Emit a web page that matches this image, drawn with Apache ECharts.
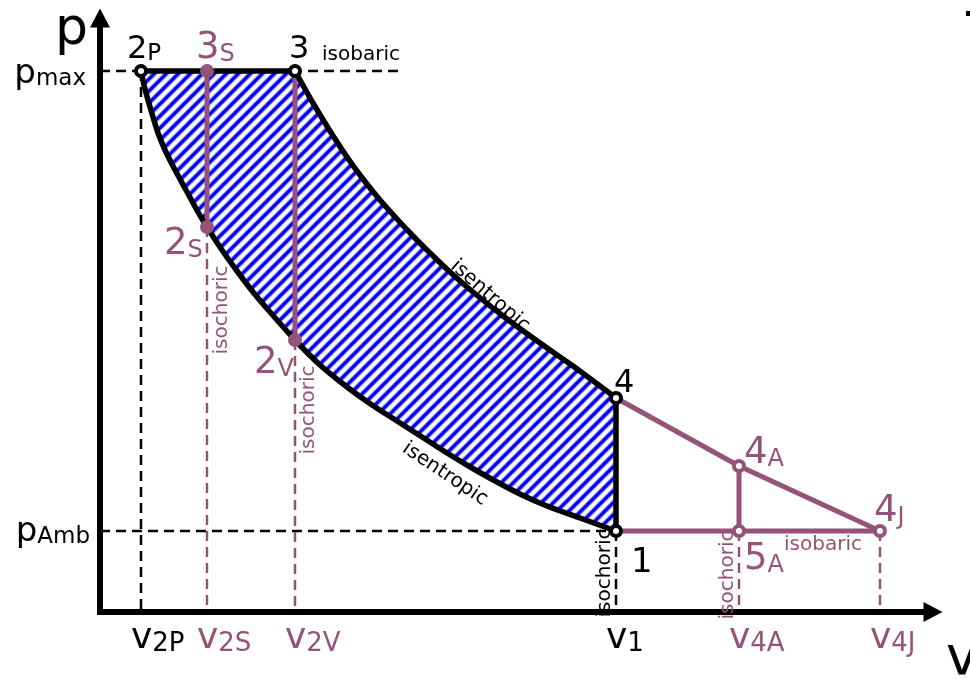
<!DOCTYPE html>
<html><head><meta charset="utf-8">
<script src="https://cdn.jsdelivr.net/npm/echarts@6/dist/echarts.min.js"></script>
<style>html,body{margin:0;padding:0;background:#fff}#c{width:970px;height:679px}</style>
</head><body><div id="c"></div>
<script>
// ---------- data (v, p in arbitrary units) ----------
const stateNames = ['2P','3S','3','2S','2V','4','1','4A','5A','4J'];
const stateV = [0.41,1.07,1.95,1.07,1.95,5.16,5.16,6.39,6.39,7.80];
const stateP = [5.41,5.41,5.41,3.85,2.72,2.14,0.81,1.46,0.81,0.81];
const upperV = [1.95,2.13,2.30,2.47,2.63,2.80,2.97,3.13,3.30,3.50,3.73,4.07,4.40,4.73,5.16];
const upperP = [5.41,5.09,4.81,4.55,4.33,4.12,3.93,3.76,3.59,3.40,3.20,2.93,2.69,2.46,2.14];
const lowerV = [0.41,0.44,0.48,0.53,0.58,0.65,0.74,0.86,0.98,1.07,1.22,1.37,1.53,1.70,1.95,2.20,2.47,2.72,2.97,3.22,3.47,3.72,3.97,4.22,4.47,4.80,5.16];
const lowerP = [5.41,5.27,5.12,4.95,4.79,4.62,4.44,4.22,4.00,3.85,3.62,3.41,3.20,3.00,2.72,2.47,2.25,2.07,1.91,1.75,1.59,1.44,1.30,1.17,1.06,0.94,0.81];
const expansionV = [5.16,6.39,7.80];
const expansionP = [2.14,1.46,0.81];
const vTickNames = ['2P','2S','2V','1','4A','4J'];
const vTickValues = [0.41,1.07,1.95,5.16,6.39,7.80];
const pTickNames = ['max','Amb'];
const pTickValues = [5.41,0.81];
const isobarDashEnd = 3.00;

// ---------- styles ----------
const PURPLE = '#955377';
const FONT = "'DejaVu Sans', Verdana, sans-serif";
const S = n => { const i = stateNames.indexOf(n); return [stateV[i], stateP[i]]; };
const zip = (a, b) => a.map((v, i) => [v, b[i]]);

// hatch pattern (soft-edged blue diagonal stripes)
const tile = document.createElement('canvas');
tile.width = tile.height = 12;
(function(){
  const c = tile.getContext('2d');
  c.fillStyle = '#fff'; c.fillRect(0,0,12,12);
  function stripes(color, w){
    c.strokeStyle = color; c.lineWidth = w;
    c.beginPath();
    c.moveTo(-6,6); c.lineTo(6,-6);
    c.moveTo(-1,13); c.lineTo(13,-1);
    c.moveTo(6,18); c.lineTo(18,6);
    c.stroke();
  }
  stripes('#b4b4ff', 5.6);
  stripes('#0000ff', 3.2);
})();
const hatch = {image: tile, repeat: 'repeat'};

function line(data, color, width, dashed, z, smooth) {
  return {type:'line', data, symbol:'none', z, silent:true, animation:false, clip:false, smooth: smooth || false,
    lineStyle:{color, width, opacity:1, type: dashed ? [10,6] : 'solid', cap: dashed ? 'butt' : 'round', join:'round'}};
}

const series = [];
// hatched work area
series.push({type:'custom', z:1, silent:true, data:[[0,0]], clip:false,
  renderItem: function(params, api){
    const pts = [];
    for (let i = 0; i < upperV.length; i++) pts.push(api.coord([upperV[i], upperP[i]]));
    for (let i = lowerV.length-1; i >= 0; i--) pts.push(api.coord([lowerV[i], lowerP[i]]));
    return {type:'polygon', shape:{points:pts}, style:{fill: hatch}};
  }});
// dashed helpers (black)
const p2P = S('2P'), p1 = S('1');
series.push(line([[0,p2P[1]],[isobarDashEnd,p2P[1]]], '#000', 2.5, true, 2));
series.push(line([[0,p1[1]],[p1[0],p1[1]]], '#000', 2.5, true, 2));
series.push(line([[p2P[0],p2P[1]],[p2P[0],0]], '#000', 2.5, true, 2));
series.push(line([[p1[0],p1[1]],[p1[0],0]], '#000', 2.5, true, 2));
// dashed helpers (purple)
['2S','2V','5A','4J'].forEach(n => { const p = S(n); series.push(line([[p[0],p[1]],[p[0],0]], PURPLE, 2.5, true, 2)); });
// purple process lines
series.push(line([S('3S'), S('2S')], PURPLE, 5, false, 3));
series.push(line([S('3'), S('2V')], PURPLE, 5, false, 3));
series.push(line(zip(expansionV, expansionP), PURPLE, 5, false, 3));
series.push(line([S('4A'), S('5A')], PURPLE, 5, false, 3));
series.push(line([S('1'), S('4J')], PURPLE, 5, false, 3));
// black cycle
series.push(line([S('2P'), S('3')], '#000', 5.5, false, 4));
series.push(line(zip(upperV, upperP), '#000', 5.5, false, 4, 0.25));
series.push(line([S('4'), S('1')], '#000', 5.5, false, 4));
series.push(line(zip(lowerV, lowerP), '#000', 5.5, false, 4, 0.25));

// markers + labels
const kind = {'2P':'k','3':'k','4':'k','1':'k','4A':'r','5A':'r','4J':'r','3S':'d','2S':'d','2V':'d'};
const labelOffset = {'2P':[-14,-5],'3':[-6,-5],'4':[-2,2],'1':[15,49],'3S':[-11,-4],'2S':[-43,36],
  '2V':[-41,42],'4A':[5,6],'5A':[5,47],'4J':[-6,-1]};
const tok = (size, color) => ({fontSize:size, color, fontFamily:FONT, verticalAlign:'bottom', textBorderWidth:0, textBorderColor:'transparent'});
const rich = {
  kb:tok(32,'#000'), ks:tok(23,'#000'), k1:tok(34,'#000'),
  pb:tok(37,PURPLE), ps:tok(24,PURPLE),
  vb:tok(36,'#000'), vs:tok(26,'#000'),
  vpb:tok(36,PURPLE), vps:tok(26,PURPLE),
  yb:tok(34,'#000'), ys:tok(23,'#000')
};
const markerData = stateNames.map((n, i) => {
  const k = kind[n];
  const big = n.charAt(0), small = n.slice(1);
  let fmt;
  if (k === 'k') fmt = (n === '1' ? '{k1|' : '{kb|') + big + '}' + (small ? '{ks|' + small + '}' : '');
  else fmt = '{pb|' + big + '}' + (small ? '{ps|' + small + '}' : '');
  const item = {name:n, value:[stateV[i], stateP[i]],
    label:{offset: labelOffset[n], formatter: fmt}};
  if (k === 'k') { item.symbolSize = 10; item.itemStyle = {color:'#fff', borderColor:'#000', borderWidth:4, opacity:1}; }
  else if (k === 'r') { item.symbolSize = 10; item.itemStyle = {color:'#fff', borderColor:PURPLE, borderWidth:4, opacity:1}; }
  else { item.symbolSize = 14; item.itemStyle = {color:PURPLE, borderWidth:0, opacity:1}; }
  return item;
});
const labelBase = {show:true, position:'inside', textBorderWidth:0, textBorderColor:'transparent', opacity:1, rich};
series.push({type:'scatter', z:5, silent:true, data:markerData,
  label:Object.assign({align:'left', verticalAlign:'bottom'}, labelBase)});

// axis tick labels (v and p) as text anchored on the axes
const blackV = {'2P':1,'1':1};
const vLabelData = vTickValues.map((v, i) => {
  const n = vTickNames[i]; const b = blackV[n] ? 'v' : 'vp';
  return {name:n, value:[v,0], label:{formatter:'{' + b + 'b|v}{' + b + 's|' + n + '}'}};
});
series.push({type:'scatter', z:6, silent:true, symbolSize:0, data:vLabelData,
  itemStyle:{color:'transparent'},
  label:Object.assign({align:'left', verticalAlign:'bottom', offset:[-10,45]}, labelBase)});
const pLabelOffset = {'max':[-14,20],'Amb':[-10,18]};
const pLabelData = pTickValues.map((p, i) => {
  const n = pTickNames[i];
  return {name:n, value:[0,p], label:{offset:pLabelOffset[n], formatter:'{yb|p}{ys|' + n + '}'}};
});
series.push({type:'scatter', z:6, silent:true, symbolSize:0, data:pLabelData,
  itemStyle:{color:'transparent'},
  label:Object.assign({align:'right', verticalAlign:'bottom'}, labelBase)});

function txt(text, x, y, color, rot, size) {
  return {type:'text', x, y, rotation: rot || 0, z:100, silent:true,
    style:{text, fill:color, fontSize:size || 20, fontFamily:FONT, align:'center', verticalAlign:'middle'}};
}

const axisCommon = {
  splitLine:{show:false}, axisTick:{show:false}, axisLabel:{show:false}, z:3,
  axisLine:{show:true, onZero:false, symbol:['none','triangle'], symbolSize:[20,19],
    lineStyle:{color:'#000', width:6, cap:'square'}}
};

const chart = echarts.init(document.getElementById('c'), null, {renderer:'canvas'});
chart.setOption({
  animation:false,
  backgroundColor:'#fff',
  grid:{left:100, right:37, top:18, bottom:67},
  xAxis:Object.assign({type:'value', min:0, max:8.33}, axisCommon),
  yAxis:Object.assign({type:'value', min:0, max:5.94}, axisCommon),
  series,
  graphic:[
    {type:'text', x:55, y:56, z:100, silent:true, style:{text:'p', fill:'#000', fontSize:52, fontFamily:FONT, align:'left', verticalAlign:'bottom'}},
    {type:'text', x:946, y:687, z:100, silent:true, style:{text:'v', fill:'#000', fontSize:54, fontFamily:FONT, align:'left', verticalAlign:'bottom'}},
    txt('isobaric', 361, 55, '#000'),
    txt('isobaric', 823, 545, PURPLE),
    txt('isentropic', 490, 296, '#000', -0.72),
    txt('isentropic', 445, 474, '#000', -0.59),
    txt('isochoric', 222, 310, PURPLE, Math.PI/2),
    txt('isochoric', 309, 410, PURPLE, Math.PI/2),
    txt('isochoric', 605, 573, '#000', Math.PI/2),
    txt('isochoric', 728, 575, PURPLE, Math.PI/2),
    {type:'rect', z:100, silent:true, shape:{x:966, y:11, width:4, height:5}, style:{fill:'#000'}}
  ]
});
</script></body></html>
